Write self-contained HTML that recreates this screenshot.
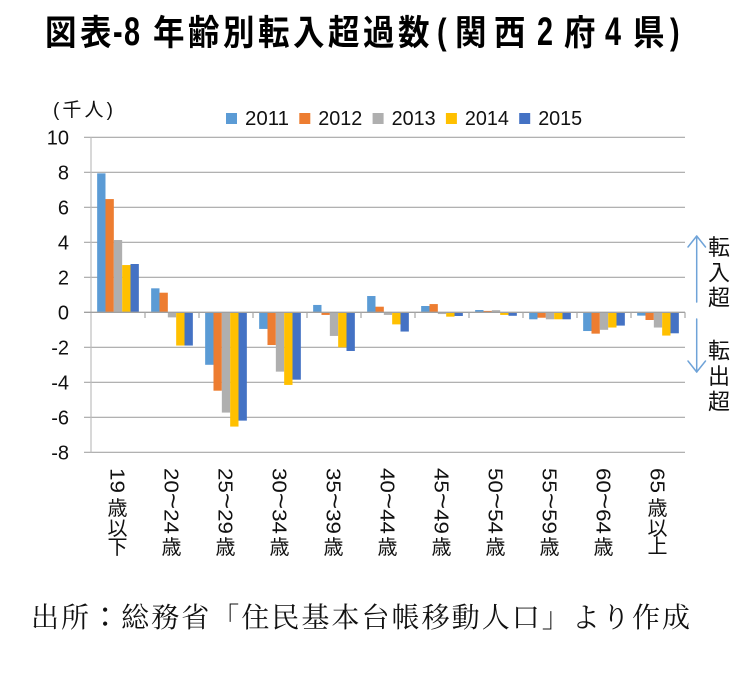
<!DOCTYPE html>
<html>
<head>
<meta charset="utf-8">
<style>
html,body{margin:0;padding:0;background:#fff;}
svg{display:block;}
.sans{font-family:"Liberation Sans","Noto Sans CJK JP",sans-serif;}
.cjk{font-family:"Noto Sans CJK JP","Noto Sans CJK SC",sans-serif;}
</style>
</head>
<body>
<svg width="750" height="674" viewBox="0 0 750 674" xmlns="http://www.w3.org/2000/svg">
<rect x="0" y="0" width="750" height="674" fill="#fff"/>

<!-- Title -->
<g fill="#000" font-weight="bold">
  <text class="cjk" transform="translate(45,45) scale(0.9,1)" font-size="35">図</text>
  <text class="cjk" transform="translate(80,45) scale(0.9,1)" font-size="35">表</text>
  <text class="sans" transform="translate(113,45) scale(0.72,1)" font-size="40">-</text>
  <text class="sans" transform="translate(124,45) scale(0.72,1)" font-size="40">8</text>
  <text class="cjk" transform="translate(153,45) scale(0.9,1)" font-size="35">年</text>
  <text class="cjk" transform="translate(188,45) scale(0.9,1)" font-size="35">齢</text>
  <text class="cjk" transform="translate(223,45) scale(0.9,1)" font-size="35">別</text>
  <text class="cjk" transform="translate(258,45) scale(0.9,1)" font-size="35">転</text>
  <text class="cjk" transform="translate(293,45) scale(0.9,1)" font-size="35">入</text>
  <text class="cjk" transform="translate(328,45) scale(0.9,1)" font-size="35">超</text>
  <text class="cjk" transform="translate(363,45) scale(0.9,1)" font-size="35">過</text>
  <text class="cjk" transform="translate(398,45) scale(0.9,1)" font-size="35">数</text>
  <text class="sans" transform="translate(437,44) scale(0.8,1)" font-size="36">(</text>
  <text class="cjk" transform="translate(455,45) scale(0.9,1)" font-size="35">関</text>
  <text class="cjk" transform="translate(494,45) scale(0.9,1)" font-size="35">西</text>
  <text class="sans" transform="translate(537,45) scale(0.72,1)" font-size="40">2</text>
  <text class="cjk" transform="translate(564,45) scale(0.9,1)" font-size="35">府</text>
  <text class="sans" transform="translate(605,45) scale(0.72,1)" font-size="40">4</text>
  <text class="cjk" transform="translate(633,45) scale(0.9,1)" font-size="35">県</text>
  <text class="sans" transform="translate(670,44) scale(0.8,1)" font-size="36">)</text>
</g>

<!-- Unit label -->
<text class="sans" x="53" y="116" font-size="19" textLength="60" lengthAdjust="spacing" fill="#111">(千人)</text>

<!-- Legend -->
<g class="sans" font-size="20" fill="#111">
  <rect x="226" y="113" width="11" height="11" fill="#5B9BD5"/>
  <text x="245" y="125" textLength="44" lengthAdjust="spacingAndGlyphs">2011</text>
  <rect x="299.3" y="113" width="11" height="11" fill="#ED7D31"/>
  <text x="318.3" y="125" textLength="44" lengthAdjust="spacingAndGlyphs">2012</text>
  <rect x="372.6" y="113" width="11" height="11" fill="#AFAFAF"/>
  <text x="391.6" y="125" textLength="44" lengthAdjust="spacingAndGlyphs">2013</text>
  <rect x="445.9" y="113" width="11" height="11" fill="#FFC000"/>
  <text x="464.9" y="125" textLength="44" lengthAdjust="spacingAndGlyphs">2014</text>
  <rect x="519.2" y="113" width="11" height="11" fill="#4472C4"/>
  <text x="538.2" y="125" textLength="44" lengthAdjust="spacingAndGlyphs">2015</text>
</g>

<!-- Gridlines -->
<g stroke="#A6A6A6" stroke-width="1.2">
  <line x1="84" y1="137.3" x2="685" y2="137.3"/>
  <line x1="84" y1="172.3" x2="685" y2="172.3"/>
  <line x1="84" y1="207.3" x2="685" y2="207.3"/>
  <line x1="84" y1="242.3" x2="685" y2="242.3"/>
  <line x1="84" y1="277.3" x2="685" y2="277.3"/>
  <line x1="84" y1="347.3" x2="685" y2="347.3"/>
  <line x1="84" y1="382.3" x2="685" y2="382.3"/>
  <line x1="84" y1="417.3" x2="685" y2="417.3"/>
  <line x1="84" y1="452.3" x2="685" y2="452.3"/>
</g>
<line x1="91" y1="137.3" x2="91" y2="452.3" stroke="#BDBDBD" stroke-width="1.2"/>

<!-- Y labels -->
<g class="sans" font-size="20" fill="#111" text-anchor="end">
  <text x="69" y="144.3">10</text>
  <text x="69" y="179.3">8</text>
  <text x="69" y="214.3">6</text>
  <text x="69" y="249.3">4</text>
  <text x="69" y="284.3">2</text>
  <text x="69" y="319.3">0</text>
  <text x="69" y="354.3">-2</text>
  <text x="69" y="389.3">-4</text>
  <text x="69" y="424.3">-6</text>
  <text x="69" y="459.3">-8</text>
</g>

<!-- Bars -->
<g>
  <rect x="97.15" y="173.35" width="8.34" height="138.95" fill="#5B9BD5"/>
  <rect x="105.49" y="199.07" width="8.34" height="113.23" fill="#ED7D31"/>
  <rect x="113.83" y="240.02" width="8.34" height="72.28" fill="#AFAFAF"/>
  <rect x="122.17" y="265.05" width="8.34" height="47.25" fill="#FFC000"/>
  <rect x="130.51" y="264.0" width="8.34" height="48.3" fill="#4472C4"/>

  <rect x="151.15" y="288.32" width="8.34" height="23.98" fill="#5B9BD5"/>
  <rect x="159.49" y="292.7" width="8.34" height="19.6" fill="#ED7D31"/>
  <rect x="167.83" y="312.3" width="8.34" height="5.08" fill="#AFAFAF"/>
  <rect x="176.17" y="312.3" width="8.34" height="33.25" fill="#FFC000"/>
  <rect x="184.51" y="312.3" width="8.34" height="33.25" fill="#4472C4"/>

  <rect x="205.15" y="312.3" width="8.34" height="52.5" fill="#5B9BD5"/>
  <rect x="213.49" y="312.3" width="8.34" height="78.4" fill="#ED7D31"/>
  <rect x="221.83" y="312.3" width="8.34" height="100.28" fill="#AFAFAF"/>
  <rect x="230.17" y="312.3" width="8.34" height="114.28" fill="#FFC000"/>
  <rect x="238.51" y="312.3" width="8.34" height="108.33" fill="#4472C4"/>

  <rect x="259.15" y="312.3" width="8.34" height="16.63" fill="#5B9BD5"/>
  <rect x="267.49" y="312.3" width="8.34" height="32.73" fill="#ED7D31"/>
  <rect x="275.83" y="312.3" width="8.34" height="59.33" fill="#AFAFAF"/>
  <rect x="284.17" y="312.3" width="8.34" height="72.63" fill="#FFC000"/>
  <rect x="292.51" y="312.3" width="8.34" height="67.38" fill="#4472C4"/>

  <rect x="313.15" y="304.95" width="8.34" height="7.35" fill="#5B9BD5"/>
  <rect x="321.49" y="312.3" width="8.34" height="2.63" fill="#ED7D31"/>
  <rect x="329.83" y="312.3" width="8.34" height="23.63" fill="#AFAFAF"/>
  <rect x="338.17" y="312.3" width="8.34" height="35" fill="#FFC000"/>
  <rect x="346.51" y="312.3" width="8.34" height="38.68" fill="#4472C4"/>

  <rect x="367.15" y="296.02" width="8.34" height="16.28" fill="#5B9BD5"/>
  <rect x="375.49" y="306.7" width="8.34" height="5.6" fill="#ED7D31"/>
  <rect x="383.83" y="312.3" width="8.34" height="2.63" fill="#AFAFAF"/>
  <rect x="392.17" y="312.3" width="8.34" height="12.08" fill="#FFC000"/>
  <rect x="400.51" y="312.3" width="8.34" height="19.25" fill="#4472C4"/>

  <rect x="421.15" y="306.0" width="8.34" height="6.3" fill="#5B9BD5"/>
  <rect x="429.49" y="304.07" width="8.34" height="8.23" fill="#ED7D31"/>
  <rect x="437.83" y="312.3" width="8.34" height="1.75" fill="#AFAFAF"/>
  <rect x="446.17" y="312.3" width="8.34" height="4.38" fill="#FFC000"/>
  <rect x="454.51" y="312.3" width="8.34" height="3.68" fill="#4472C4"/>

  <rect x="475.15" y="310.02" width="8.34" height="2.28" fill="#5B9BD5"/>
  <rect x="483.49" y="310.9" width="8.34" height="1.4" fill="#ED7D31"/>
  <rect x="491.83" y="310.2" width="8.34" height="2.1" fill="#AFAFAF"/>
  <rect x="500.17" y="312.3" width="8.34" height="2.63" fill="#FFC000"/>
  <rect x="508.51" y="312.3" width="8.34" height="3.5" fill="#4472C4"/>

  <rect x="529.15" y="312.3" width="8.34" height="7" fill="#5B9BD5"/>
  <rect x="537.49" y="312.3" width="8.34" height="5.43" fill="#ED7D31"/>
  <rect x="545.83" y="312.3" width="8.34" height="7" fill="#AFAFAF"/>
  <rect x="554.17" y="312.3" width="8.34" height="7" fill="#FFC000"/>
  <rect x="562.51" y="312.3" width="8.34" height="7" fill="#4472C4"/>

  <rect x="583.15" y="312.3" width="8.34" height="18.73" fill="#5B9BD5"/>
  <rect x="591.49" y="312.3" width="8.34" height="21.35" fill="#ED7D31"/>
  <rect x="599.83" y="312.3" width="8.34" height="17.5" fill="#AFAFAF"/>
  <rect x="608.17" y="312.3" width="8.34" height="15.23" fill="#FFC000"/>
  <rect x="616.51" y="312.3" width="8.34" height="13.3" fill="#4472C4"/>

  <rect x="637.15" y="312.3" width="8.34" height="3.33" fill="#5B9BD5"/>
  <rect x="645.49" y="312.3" width="8.34" height="7.7" fill="#ED7D31"/>
  <rect x="653.83" y="312.3" width="8.34" height="15.23" fill="#AFAFAF"/>
  <rect x="662.17" y="312.3" width="8.34" height="23.28" fill="#FFC000"/>
  <rect x="670.51" y="312.3" width="8.34" height="21" fill="#4472C4"/>
</g>

<!-- Zero line and category ticks -->
<line x1="84" y1="312.3" x2="685" y2="312.3" stroke="#A0A0A0" stroke-width="1.3"/>
<g stroke="#A6A6A6" stroke-width="1.2">
  <line x1="145" y1="312.3" x2="145" y2="318"/>
  <line x1="199" y1="312.3" x2="199" y2="318"/>
  <line x1="253" y1="312.3" x2="253" y2="318"/>
  <line x1="307" y1="312.3" x2="307" y2="318"/>
  <line x1="361" y1="312.3" x2="361" y2="318"/>
  <line x1="415" y1="312.3" x2="415" y2="318"/>
  <line x1="469" y1="312.3" x2="469" y2="318"/>
  <line x1="523" y1="312.3" x2="523" y2="318"/>
  <line x1="577" y1="312.3" x2="577" y2="318"/>
  <line x1="631" y1="312.3" x2="631" y2="318"/>
  <line x1="685" y1="312.3" x2="685" y2="318"/>
</g>

<!-- X labels -->
<g class="sans" font-size="20" fill="#111">
  <text transform="translate(117.5,468) rotate(90)" x="0" y="7.2" textLength="25" lengthAdjust="spacingAndGlyphs">19</text>
  <text transform="translate(171.5,468) rotate(90)" x="0" y="7.2" textLength="66" lengthAdjust="spacingAndGlyphs">20<tspan font-size="25">~</tspan>24</text>
  <text transform="translate(225.5,468) rotate(90)" x="0" y="7.2" textLength="66" lengthAdjust="spacingAndGlyphs">25<tspan font-size="25">~</tspan>29</text>
  <text transform="translate(279.5,468) rotate(90)" x="0" y="7.2" textLength="66" lengthAdjust="spacingAndGlyphs">30<tspan font-size="25">~</tspan>34</text>
  <text transform="translate(333.5,468) rotate(90)" x="0" y="7.2" textLength="66" lengthAdjust="spacingAndGlyphs">35<tspan font-size="25">~</tspan>39</text>
  <text transform="translate(387.5,468) rotate(90)" x="0" y="7.2" textLength="66" lengthAdjust="spacingAndGlyphs">40<tspan font-size="25">~</tspan>44</text>
  <text transform="translate(441.5,468) rotate(90)" x="0" y="7.2" textLength="66" lengthAdjust="spacingAndGlyphs">45<tspan font-size="25">~</tspan>49</text>
  <text transform="translate(495.5,468) rotate(90)" x="0" y="7.2" textLength="66" lengthAdjust="spacingAndGlyphs">50<tspan font-size="25">~</tspan>54</text>
  <text transform="translate(549.5,468) rotate(90)" x="0" y="7.2" textLength="66" lengthAdjust="spacingAndGlyphs">55<tspan font-size="25">~</tspan>59</text>
  <text transform="translate(603.5,468) rotate(90)" x="0" y="7.2" textLength="66" lengthAdjust="spacingAndGlyphs">60<tspan font-size="25">~</tspan>64</text>
  <text transform="translate(657.5,468) rotate(90)" x="0" y="7.2" textLength="25" lengthAdjust="spacingAndGlyphs">65</text>
</g>
<g class="cjk" font-size="20" fill="#111" text-anchor="middle">
  <text x="117.5" y="515">歳</text>
  <text x="117.5" y="535">以</text>
  <text x="117.5" y="554">下</text>
  <text x="171.5" y="554">歳</text>
  <text x="225.5" y="554">歳</text>
  <text x="279.5" y="554">歳</text>
  <text x="333.5" y="554">歳</text>
  <text x="387.5" y="554">歳</text>
  <text x="441.5" y="554">歳</text>
  <text x="495.5" y="554">歳</text>
  <text x="549.5" y="554">歳</text>
  <text x="603.5" y="554">歳</text>
  <text x="657.5" y="515">歳</text>
  <text x="657.5" y="535">以</text>
  <text x="657.5" y="553">上</text>
</g>

<!-- Right arrows -->
<g stroke="#6FA3D8" stroke-width="1.5" fill="none" stroke-linecap="round" stroke-linejoin="round">
  <line x1="696.7" y1="236" x2="696.7" y2="302"/>
  <polyline points="688,247 696.7,236 705.5,247"/>
  <line x1="696.7" y1="319" x2="696.7" y2="372"/>
  <polyline points="688,361 696.7,372 705.5,361"/>
</g>
<g class="cjk" font-size="22" fill="#111" text-anchor="middle">
  <text x="719" y="255">転</text>
  <text x="719" y="280.5">入</text>
  <text x="719" y="305.5">超</text>
  <text x="719" y="358.5">転</text>
  <text x="719" y="384">出</text>
  <text x="719" y="409.5">超</text>
</g>

<!-- Footer -->
<text x="31" y="627" font-size="28" textLength="659" lengthAdjust="spacing" fill="#111" style="font-family:'Liberation Serif','Noto Serif CJK SC',serif;">出所<tspan style="font-family:'Noto Sans CJK JP',sans-serif;">：</tspan>総務省「住民基本台帳移動人口」より作成</text>
</svg>
</body>
</html>
